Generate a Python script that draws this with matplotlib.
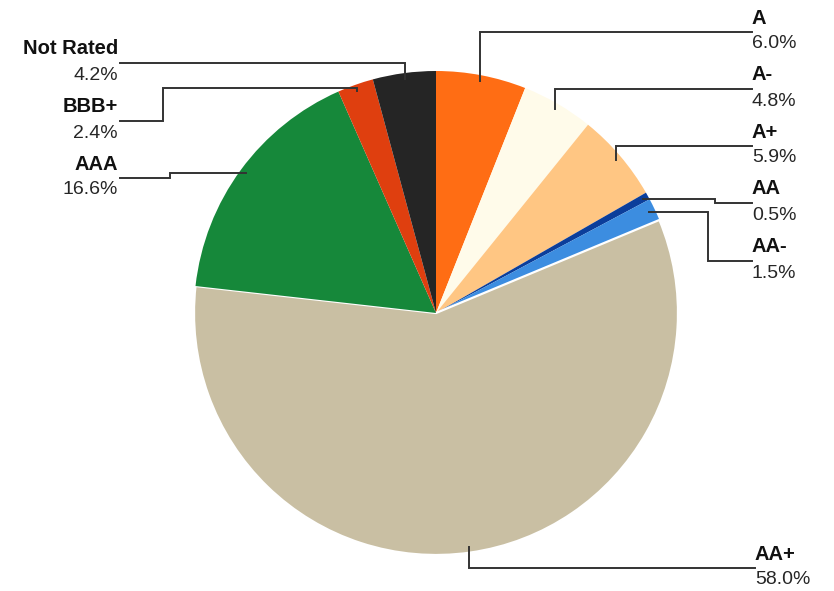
import numpy as np
import matplotlib.pyplot as plt

plt.rcParams['font.family'] = ['Liberation Sans', 'DejaVu Sans']

# ratings, clockwise from 12 o'clock
ratings = ['A', 'A-', 'A+', 'AA', 'AA-', 'AA+', 'AAA', 'BBB+', 'Not Rated']
shares = [6.0, 4.8, 5.9, 0.5, 1.5, 58.0, 16.6, 2.4, 4.2]
colors = ['#FF6D14', '#FFFBEA', '#FFC683', '#0B3E9B', '#3C8DE0',
          '#C9BFA3', '#16883A', '#DF3F0F', '#252525']

W, H = 834, 591
cx, cy, R = 436, 313, 242   # pie centre / radius in pixels (y down)

# leader layout per label: (side, label x, line y, knee x, first run y or None)
layout = {
    'A':         ('R', 752, 32, None, None),
    'A-':        ('R', 752, 89, None, None),
    'A+':        ('R', 752, 146, None, None),
    'AA':        ('R', 752, 203, 715, 'a'),
    'AA-':       ('R', 752, 261, 708, 'a'),
    'AA+':       ('R', 755, 568, None, None),
    'AAA':       ('L', 120, 178, 170, 'a'),
    'BBB+':      ('L', 120, 121, 163, 88),
    'Not Rated': ('L', 120, 63, None, None),
}

fig = plt.figure(figsize=(W / 100, H / 100), dpi=100)
ax = fig.add_axes([0, 0, 1, 1])

wedges, _ = ax.pie(shares, colors=colors, startangle=90, counterclock=False,
                   center=(cx, H - cy), radius=R,
                   wedgeprops=dict(linewidth=0))
# only the big AA+ slice has a white outline in the original
wedges[5].set_edgecolor('white')
wedges[5].set_linewidth(1.6)

cum = np.cumsum([0] + shares[:-1])
for name, val, start in zip(ratings, shares, cum):
    mid = np.deg2rad((start + val / 2) / sum(shares) * 360)
    axp = cx + 0.975 * R * np.sin(mid)
    ayp = cy - 0.975 * R * np.cos(mid)
    side, lx, ly, kx, y1 = layout[name]
    if kx is None:
        pts = [(axp, ayp), (axp, ly), (lx, ly)]
    else:
        y1 = ayp if y1 == 'a' else y1
        pts = [(axp, ayp), (axp, y1), (kx, y1), (kx, ly), (lx, ly)]
    xs = [p[0] for p in pts]
    ys = [H - p[1] for p in pts]
    ax.plot(xs, ys, color='#333333', lw=1.4, solid_joinstyle='miter')

    ha = 'left' if side == 'R' else 'right'
    tx = lx if side == 'R' else lx - 2
    ax.text(tx, H - (ly - 14), name, ha=ha, va='center', fontsize=14.5,
            fontweight='bold', color='#111111')
    ax.text(tx, H - (ly + 12), f'{val:.1f}%', ha=ha, va='center',
            fontsize=14, color='#262626')

ax.set_xlim(0, W)
ax.set_ylim(0, H)
ax.set_aspect('auto')
ax.axis('off')

fig.savefig('out.png', dpi=100, facecolor='white')
